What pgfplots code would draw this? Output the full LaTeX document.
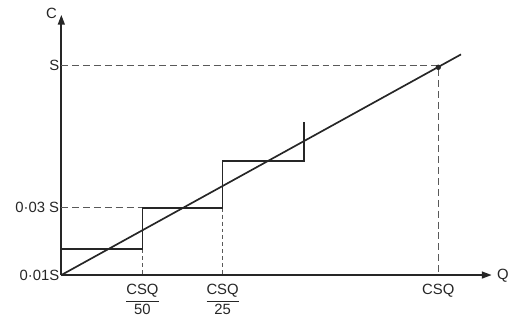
\documentclass[border=0pt]{standalone}
\usepackage{pgfplots}
\pgfplotsset{compat=1.18}
\usepackage{amsmath}
\usepackage{fontspec}
\setmainfont{Liberation Sans}
\usetikzlibrary{arrows.meta}
\begin{document}
\begin{tikzpicture}
\begin{axis}[
  x=1pt, y=1pt,
  xmin=0, xmax=435, ymin=0, ymax=263,
  axis lines=left,
  axis line style={line width=1.7pt, color=black!85, -{Triangle[length=10pt,width=7pt]}},
  clip=false,
  major tick length=0pt,
  xtick={82,163,381},
  xticklabels={$\dfrac{\text{CSQ}}{\text{50}}$, $\dfrac{\text{CSQ}}{\text{25}}$, CSQ},
  ytick={0,68,212},
  yticklabels={0·01S, 0·03 S, S},
  tick label style={font=\fontsize{15}{17}\selectfont, text=black!85},
  xticklabel style={yshift=-6pt, anchor=north},
  yticklabel style={inner sep=2pt, anchor=east},
]
% bounding box
\path (axis cs:-62,-44) rectangle (axis cs:450,278);
% dashed guide lines
\addplot[line width=1.3pt, color=black!65, dash pattern=on 7pt off 4pt] coordinates {(0,212) (381,212) (381,0)};
\addplot[line width=1.3pt, color=black!65, dash pattern=on 7pt off 4pt] coordinates {(0,68) (82,68)};
\addplot[line width=1.3pt, color=black!65, dash pattern=on 4pt off 3pt] coordinates {(82,26) (82,0)};
\addplot[line width=1.3pt, color=black!65, dash pattern=on 4pt off 3pt] coordinates {(163,68) (163,0)};
% diagonal
\addplot[line width=1.7pt, color=black!85] coordinates {(0,0) (404,223)};
% staircase
\addplot[line width=1.7pt, color=black!85] coordinates {(0,26) (82,26) (82,68) (163,68) (163,115) (245,115) (245,155)};
% dot
\addplot[only marks, mark=*, mark size=2.5pt, color=black!85] coordinates {(381,210)};
% axis labels
\node[font=\fontsize{15}{17}\selectfont, text=black!85] at (axis cs:-10,264) {C};
\node[font=\fontsize{15}{17}\selectfont, text=black!85, anchor=west] at (axis cs:437,-1) {Q};
\end{axis}
\end{tikzpicture}
\end{document}
